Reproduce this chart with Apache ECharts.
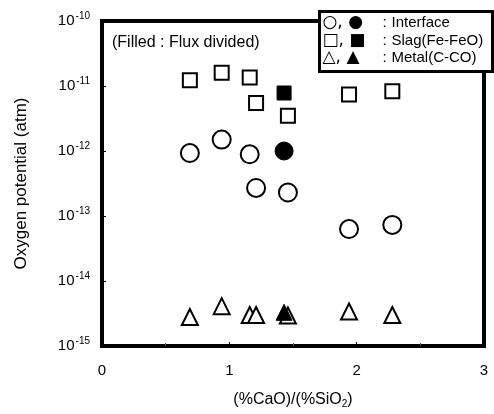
<!DOCTYPE html>
<html>
<head>
<meta charset="utf-8">
<script src="https://cdn.jsdelivr.net/npm/echarts@6/dist/echarts.min.js"></script>
<style>
  html, body { margin: 0; padding: 0; background: #fff; }
  #chart { width: 494px; height: 414px; }
</style>
</head>
<body>
<div id="chart"></div>
<script>
// Basicity (%CaO)/(%SiO2) of each run
const basicity = [0.69, 0.94, 1.16, 1.21, 1.46, 1.94, 2.28];
const basicityDivided = [1.43];

// Oxygen potential (atm), open symbols
const interfacePO2 = [9.3e-13, 1.5e-12, 8.9e-13, 2.7e-13, 2.3e-13, 6.3e-14, 7.3e-14];
const slagPO2 = [1.23e-11, 1.6e-11, 1.35e-11, 5.5e-12, 3.5e-12, 7.4e-12, 8.3e-12];
const metalPO2 = [2.8e-15, 4.1e-15, 3.0e-15, 3.0e-15, 2.95e-15, 3.4e-15, 3.0e-15];

// Filled symbols: flux divided
const interfaceDivided = [1.0e-12];
const slagDivided = [7.8e-12];
const metalDivided = [3.3e-15];

const xTicks = [0, 1, 2, 3];
const yRange = [1e-15, 1e-10];

const legendRows = [
  { sym: '○, ●', label: 'Interface' },
  { sym: '□, ■', label: 'Slag(Fe-FeO)' },
  { sym: '△, ▲', label: 'Metal(C-CO)' }
];

const FONT = '"Liberation Sans", Arial, sans-serif';

function pairs(xs, ys) { return xs.map((x, i) => [x, ys[i]]); }

function scatter(name, xs, ys, symbol, size, filled) {
  return {
    name, type: 'scatter', data: pairs(xs, ys), symbol, symbolSize: size,
    itemStyle: filled
      ? { color: '#000', borderColor: '#000', borderWidth: 1, opacity: 1 }
      : { color: '#fff', borderColor: '#000', borderWidth: 2, opacity: 1 },
    z: filled ? 4 : 3
  };
}

const chart = echarts.init(document.getElementById('chart'), null, { renderer: 'canvas' });

chart.setOption({
  animation: false,
  backgroundColor: '#fff',
  grid: {
    left: 102, right: 10, top: 21, bottom: 60,
    show: true, borderColor: '#000', borderWidth: 4, backgroundColor: 'transparent'
  },
  xAxis: {
    type: 'value', min: xTicks[0], max: xTicks[xTicks.length - 1], interval: 1,
    name: '(%CaO)/(%SiO{sub|2})', nameLocation: 'middle', nameGap: 45,
    nameTextStyle: {
      fontFamily: FONT, fontSize: 16, color: '#000',
      rich: { sub: { fontFamily: FONT, fontSize: 10, color: '#000', padding: [8, 0, 0, 0] } }
    },
    axisLine: { show: false },
    axisTick: { show: true, inside: true, length: 4, lineStyle: { color: '#000', width: 1 } },
    minorTick: { show: true, splitNumber: 2, length: 3, lineStyle: { color: '#555' } },
    splitLine: { show: false },
    axisLabel: { fontFamily: FONT, fontSize: 15, color: '#000', margin: 17 }
  },
  yAxis: {
    type: 'log', logBase: 10, min: yRange[0], max: yRange[1],
    name: 'Oxygen potential (atm)', nameLocation: 'middle', nameGap: 72,
    nameTextStyle: { fontFamily: FONT, fontSize: 17, color: '#000' },
    axisLine: { show: false },
    axisTick: { show: true, inside: true, length: 4, lineStyle: { color: '#000', width: 1 } },
    splitLine: { show: false },
    axisLabel: {
      fontFamily: FONT, fontSize: 15, color: '#000', margin: 12,
      formatter: v => '10{sup|' + Math.round(Math.log10(v)) + '}',
      rich: { sup: { fontFamily: FONT, fontSize: 10, color: '#000', padding: [0, 0, 9, 1] } }
    }
  },
  series: [
    scatter('Interface', basicity, interfacePO2, 'circle', 18, false),
    scatter('Slag', basicity, slagPO2, 'rect', 14, false),
    scatter('Metal', basicity, metalPO2, 'triangle', 16, false),
    scatter('Interface divided', basicityDivided, interfaceDivided, 'circle', 18, true),
    scatter('Slag divided', basicityDivided, slagDivided, 'rect', 14, true),
    scatter('Metal divided', basicityDivided, metalDivided, 'triangle', 16, true)
  ],
  graphic: [
    {
      type: 'text', left: 112, top: 35, z: 10,
      style: { text: '(Filled : Flux divided)', font: '16px ' + FONT, fill: '#000' }
    },
    {
      type: 'group', left: 318, top: 10, z: 20,
      children: [
        { type: 'rect', shape: { x: 0, y: 0, width: 173, height: 60 },
          style: { fill: '#fff', stroke: '#000', lineWidth: 3 } }
      ].concat(legendRows.flatMap((r, i) => [
        { type: 'text', x: 3, y: 3 + i * 17.5,
          style: { text: r.sym, font: '17px "DejaVu Sans", sans-serif', fill: '#000' } },
        { type: 'text', x: 63, y: 4 + i * 17.5,
          style: { text: ':', font: '15px ' + FONT, fill: '#000' } },
        { type: 'text', x: 72, y: 4 + i * 17.5,
          style: { text: r.label, font: '15px ' + FONT, fill: '#000' } }
      ]))
    }
  ]
});
</script>
</body>
</html>
